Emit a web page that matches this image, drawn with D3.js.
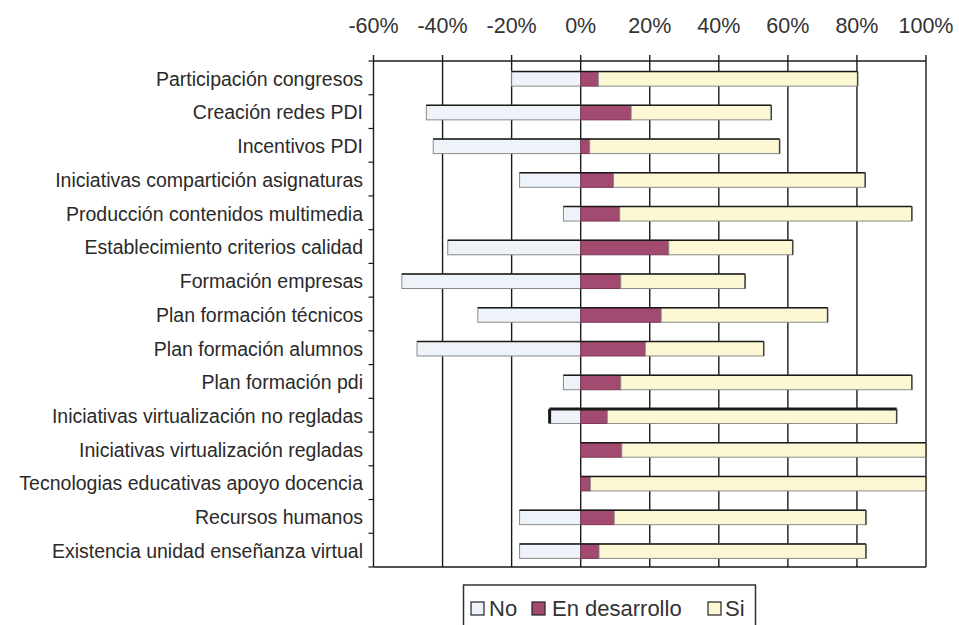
<!DOCTYPE html>
<html>
<head>
<meta charset="utf-8">
<script src="https://cdn.jsdelivr.net/npm/d3@7"></script>
<style>
  html, body { margin: 0; padding: 0; background: #fff; }
  svg { display: block; }
  text { font-family: "Liberation Sans", Arial, sans-serif; }
</style>
</head>
<body>
<svg id="chart" width="959" height="625"></svg>
<script>
const categories = [
  "Participación congresos",
  "Creación redes PDI",
  "Incentivos PDI",
  "Iniciativas compartición asignaturas",
  "Producción contenidos multimedia",
  "Establecimiento criterios calidad",
  "Formación empresas",
  "Plan formación técnicos",
  "Plan formación alumnos",
  "Plan formación pdi",
  "Iniciativas virtualización no regladas",
  "Iniciativas virtualización regladas",
  "Tecnologias educativas apoyo docencia",
  "Recursos humanos",
  "Existencia unidad enseñanza virtual"
];
const seriesNames = ["No", "En desarrollo", "Si"];
const no           = [20.0, 44.7, 42.7, 17.7, 5.0, 38.5, 51.8, 29.8, 47.4, 5.0, 9.0, 0, 0, 17.7, 17.7];
const enDesarrollo = [5.1, 14.6, 2.6, 9.5, 11.3, 25.5, 11.6, 23.3, 18.7, 11.6, 7.7, 11.9, 2.8, 9.7, 5.3];
const si           = [75.1, 40.6, 55.0, 72.9, 84.6, 35.9, 36.0, 48.2, 34.3, 84.3, 83.8, 88.1, 97.2, 72.9, 77.3];
const tickValues = [-60, -40, -20, 0, 20, 40, 60, 80, 100];

const svg = d3.select("#chart");
const plot = { left: 373.5, right: 926, top: 61, bottom: 567 };

const x = d3.scaleLinear().domain([-60, 100]).range([plot.left, plot.right]);
const y = d3.scaleBand().domain(categories).range([plot.top + 1, plot.bottom + 1]).paddingInner(0.57).paddingOuter(0.285);

const colors = { "No": "#edf3f8", "En desarrollo": "#a34a70", "Si": "#fdf8d4" };

// Gridlines / top ticks
const gx = svg.append("g");
gx.selectAll("line.grid").data(tickValues).enter().append("line")
  .attr("x1", d => x(d)).attr("x2", d => x(d))
  .attr("y1", plot.top - 6).attr("y2", plot.bottom)
  .attr("stroke", "#1a1a1a").attr("stroke-width", 1.4);

// tick labels
gx.selectAll("text.tick").data(tickValues).enter().append("text")
  .attr("x", d => x(d)).attr("y", 33)
  .attr("text-anchor", "middle")
  .attr("font-size", 21.5)
  .attr("fill", "#333")
  .text(d => String(d).replace("\u2212", "-") + "%");

// frame
svg.append("line").attr("x1", plot.left).attr("x2", plot.right).attr("y1", plot.top).attr("y2", plot.top)
  .attr("stroke", "#1a1a1a").attr("stroke-width", 1.4);
svg.append("line").attr("x1", plot.left).attr("x2", plot.right).attr("y1", plot.bottom).attr("y2", plot.bottom)
  .attr("stroke", "#1a1a1a").attr("stroke-width", 1.4);

// left axis with ticks at band boundaries
const yAxis = d3.axisLeft(y).tickSize(0).tickFormat("");
const bandStep = (plot.bottom - plot.top) / categories.length;
const boundaries = d3.range(categories.length + 1).map(i => plot.top + i * bandStep);
svg.selectAll("line.ytick").data(boundaries).enter().append("line")
  .attr("x1", plot.left - 5).attr("x2", plot.left)
  .attr("y1", d => d).attr("y2", d => d)
  .attr("stroke", "#1a1a1a").attr("stroke-width", 1.2);

// category labels
svg.selectAll("text.cat").data(categories).enter().append("text")
  .attr("x", 363)
  .attr("y", d => y(d) + y.bandwidth() / 2)
  .attr("dy", "0.35em")
  .attr("text-anchor", "end")
  .attr("font-size", 19.5)
  .attr("fill", "#2a2a2a")
  .text(d => d);

// bars
const rows = categories.map((c, i) => ({ cat: c, i, no: no[i], ed: enDesarrollo[i], si: si[i] }));
const barG = svg.append("g");
rows.forEach(r => {
  const y0 = y(r.cat), h = y.bandwidth();
  const segs = [
    { s: "No", a: -r.no, b: 0 },
    { s: "En desarrollo", a: 0, b: r.ed },
    { s: "Si", a: r.ed, b: r.ed + r.si }
  ].filter(s => s.b - s.a > 0);
  barG.selectAll(null).data(segs).enter().append("rect")
    .attr("x", d => x(d.a)).attr("width", d => x(d.b) - x(d.a))
    .attr("y", y0).attr("height", h)
    .attr("fill", d => colors[d.s])
    .attr("stroke", d => d.s === "En desarrollo" ? "#7d3456" : "#8a8a8a")
    .attr("stroke-width", 1);
  const emph = r.cat === "Iniciativas virtualización no regladas";
  const minV = -r.no, maxV = r.ed + r.si;
  // dark top edge
  barG.append("line")
    .attr("x1", x(minV)).attr("x2", x(maxV))
    .attr("y1", y0).attr("y2", y0)
    .attr("stroke", "#1a1a1a").attr("stroke-width", emph ? 3 : 1.5);
  // right end cap
  barG.append("line")
    .attr("x1", x(maxV)).attr("x2", x(maxV))
    .attr("y1", y0).attr("y2", y0 + h)
    .attr("stroke", "#444").attr("stroke-width", 1.5);
  if (emph) {
    barG.append("line")
      .attr("x1", x(minV)).attr("x2", x(minV))
      .attr("y1", y0).attr("y2", y0 + h)
      .attr("stroke", "#1a1a1a").attr("stroke-width", 3);
  }
});

// Legend
const lg = svg.append("g");
lg.append("rect").attr("x", 463.5).attr("y", 585).attr("width", 292).attr("height", 60)
  .attr("fill", "#fff").attr("stroke", "#333").attr("stroke-width", 1.5);
const legendPos = [
  { sx: 471, tx: 489 },
  { sx: 532, tx: 552 },
  { sx: 708, tx: 725 }
];
seriesNames.forEach((s, i) => {
  lg.append("rect").attr("x", legendPos[i].sx).attr("y", 602).attr("width", 13).attr("height", 13)
    .attr("fill", colors[s]).attr("stroke", "#222").attr("stroke-width", 1.2);
  lg.append("text").attr("x", legendPos[i].tx).attr("y", 616)
    .attr("font-size", 22).attr("fill", "#333").text(s);
});
</script>
</body>
</html>
